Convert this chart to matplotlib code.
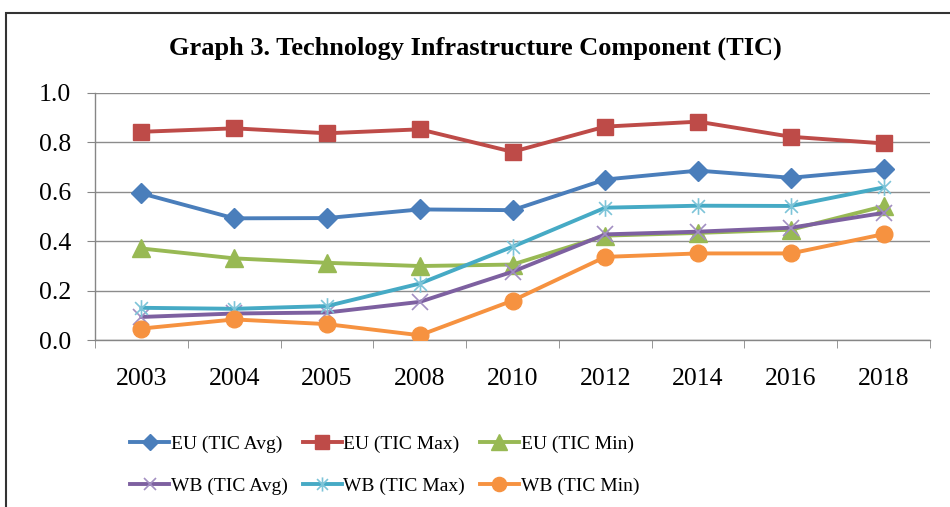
import matplotlib
matplotlib.use("Agg")
import matplotlib.pyplot as plt
from matplotlib.path import Path
import numpy as np

years = ["2003", "2004", "2005", "2008", "2010", "2012", "2014", "2016", "2018"]
eu_avg = [0.594, 0.493, 0.494, 0.529, 0.526, 0.650, 0.686, 0.657, 0.691]
eu_max = [0.843, 0.857, 0.837, 0.853, 0.762, 0.864, 0.884, 0.823, 0.796]
eu_min = [0.371, 0.331, 0.313, 0.300, 0.306, 0.423, 0.434, 0.447, 0.542]
wb_avg = [0.094, 0.108, 0.112, 0.155, 0.277, 0.428, 0.439, 0.455, 0.515]
wb_max = [0.131, 0.127, 0.138, 0.229, 0.378, 0.536, 0.544, 0.543, 0.618]
wb_min = [0.047, 0.084, 0.065, 0.020, 0.160, 0.337, 0.351, 0.351, 0.429]
labels = ["EU (TIC Avg)", "EU (TIC Max)", "EU (TIC Min)",
          "WB (TIC Avg)", "WB (TIC Max)", "WB (TIC Min)"]
yticks = [0.0, 0.2, 0.4, 0.6, 0.8, 1.0]

plt.rcParams['font.family'] = ['Liberation Serif', 'DejaVu Serif']

# asterisk marker: X plus vertical bar
ast = Path([(-1, -1), (1, 1), (-1, 1), (1, -1), (0, -1.3), (0, 1.3)],
           [Path.MOVETO, Path.LINETO, Path.MOVETO, Path.LINETO, Path.MOVETO, Path.LINETO])

fig = plt.figure(figsize=(9.5, 5.07), dpi=100)
ax = fig.add_axes([0.1, 0.329, 0.879, 0.4876])

x = np.arange(len(years))
lw = 2.8
series = [
    (eu_avg, "#4A7EBB", dict(marker="D", ms=10, mfc="#4A7EBB", mec="#4A7EBB")),
    (eu_max, "#BE4B48", dict(marker="s", ms=12, mfc="#BE4B48", mec="#BE4B48")),
    (eu_min, "#98B954", dict(marker="^", ms=13, mfc="#98B954", mec="#98B954")),
    (wb_avg, "#7D60A0", dict(marker="x", ms=11, mec="#A28FC2", mew=1.2)),
    (wb_max, "#46AAC5", dict(marker=ast, ms=12, mec="#7DC4D8", mew=1.2, mfc="none")),
    (wb_min, "#F69240", dict(marker="o", ms=12, mfc="#F69240", mec="#F69240")),
]
handles = []
for (vals, c, mk), lab in zip(series, labels):
    h, = ax.plot(x, vals, color=c, lw=lw, label=lab, zorder=3, **mk)
    handles.append(h)

ax.set_xlim(-0.5, len(years) - 0.5)
ax.set_ylim(0, 1.0)
ax.set_yticks(yticks)
ax.set_yticklabels([f"{v:.1f}" for v in yticks])
ax.set_xticks(x)
ax.set_xticklabels(years)
ax.set_xticks(np.arange(-0.5, len(years), 1), minor=True)
ax.tick_params(axis="x", which="major", length=0, pad=20, labelsize=18.5)
ax.tick_params(axis="x", which="minor", length=6, color="#868686", direction="out")
ax.tick_params(axis="y", length=6, color="#868686", pad=11, labelsize=18.5)
ax.yaxis.grid(True, color="#8C8C8C", lw=1.0)
ax.set_axisbelow(True)
for s in ["top", "right"]:
    ax.spines[s].set_visible(False)
for s in ["left", "bottom"]:
    ax.spines[s].set_color("#868686")
    ax.spines[s].set_linewidth(1.0)

fig.text(0.5, 0.904, "Graph 3. Technology Infrastructure Component (TIC)",
         ha="center", va="center", fontsize=19, fontweight="bold")

order = [0, 3, 1, 4, 2, 5]
fig.legend([handles[i] for i in order], [labels[i] for i in order], ncol=3,
           loc="center", bbox_to_anchor=(0.405, 0.083), frameon=False,
           fontsize=14, handlelength=2.0, handletextpad=0.1, columnspacing=0.75,
           labelspacing=1.25, markerscale=0.85)

# outer chart frame
fig.patches.append(plt.Rectangle((0.006, -0.05), 1.2, 1.025, transform=fig.transFigure,
                                 fill=False, ec="#333333", lw=1.5))

fig.savefig("out.png", dpi=100)
